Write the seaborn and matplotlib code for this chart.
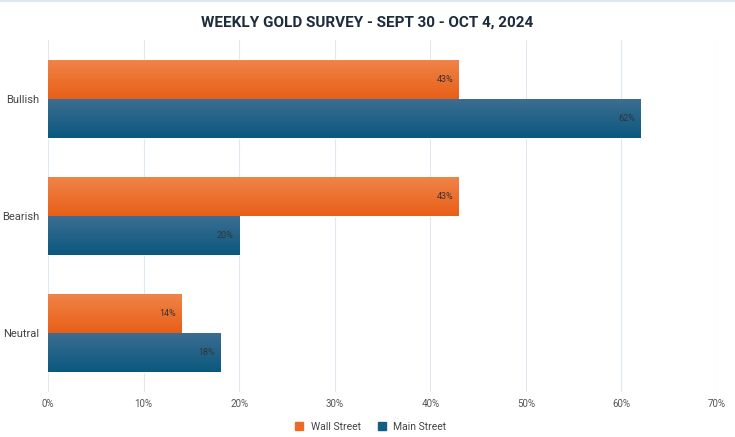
import numpy as np
import pandas as pd
import matplotlib
matplotlib.use("Agg")
import matplotlib.pyplot as plt
import seaborn as sns
from matplotlib.colors import LinearSegmentedColormap

categories = ["Bullish", "Bearish", "Neutral"]
wall_street = [43, 43, 14]
main_street = [62, 20, 18]
series = ["Wall Street", "Main Street"]
x_ticks = [0, 10, 20, 30, 40, 50, 60, 70]

df = pd.DataFrame({
    "Sentiment": categories * 2,
    "Value": wall_street + main_street,
    "Group": [series[0]] * 3 + [series[1]] * 3,
})

sns.set_theme(style="white")
plt.rcParams["font.family"] = ["Roboto", "DejaVu Sans"]

fig = plt.figure(figsize=(7.35, 4.37), dpi=100)
ax = fig.add_axes([0.0653, 0.103, 0.9102, 0.805])

palette = {"Wall Street": "#ec6a28", "Main Street": "#135d84"}
sns.barplot(data=df, y="Sentiment", x="Value", hue="Group", order=categories,
            hue_order=series, palette=palette, orient="h", width=0.667,
            ax=ax, legend=False, saturation=1)

grads = {
    "Wall Street": LinearSegmentedColormap.from_list("o", ["#f08549", "#e85e18"]),
    "Main Street": LinearSegmentedColormap.from_list("b", ["#3d6e92", "#0b587e"]),
}
grad = np.linspace(0, 1, 64).reshape(-1, 1)
for container, name in zip(ax.containers, series):
    for bar in container.patches:
        x0, y0 = bar.get_x(), bar.get_y()
        w, h = bar.get_width(), bar.get_height()
        im = ax.imshow(grad, cmap=grads[name], aspect="auto",
                       extent=[x0, x0 + w, y0 + h, y0], origin="upper",
                       zorder=bar.get_zorder() + 0.1)
        im.set_clip_path(bar)
    ax.bar_label(container, labels=[f"{v:.0f}%" for v in container.datavalues],
                 padding=-16, fontsize=6.5, color="#333333", zorder=5)

ax.set_xlim(0, 70)
ax.set_ylim(2.5, -0.5)
ax.set_xticks(x_ticks)
ax.set_xticklabels([f"{t}%" for t in x_ticks])
ax.tick_params(axis="x", labelsize=7, colors="#555555", length=0, pad=5)
ax.tick_params(axis="y", labelsize=8, colors="#444444", length=0, pad=6)
ax.set_xlabel("")
ax.set_ylabel("")
ax.grid(axis="x", color="#dfe7f0", linewidth=0.8)
ax.set_axisbelow(True)
for s in ax.spines.values():
    s.set_visible(False)

fig.suptitle("WEEKLY GOLD SURVEY - SEPT 30 - OCT 4, 2024", x=0.5, y=0.965,
             fontsize=11, fontweight="bold", color="#1e2b3c")

fig.add_artist(plt.Line2D([0, 1], [0.998, 0.998], color="#dfe7ef", linewidth=1.5,
                          transform=fig.transFigure))

handles = [plt.Line2D([], [], marker="s", linestyle="", markersize=6,
                      color=palette[s]) for s in series]
fig.legend(handles, series, loc="lower center", ncol=2, frameon=False,
           bbox_to_anchor=(0.5, -0.01), fontsize=7.5, handletextpad=0.1,
           columnspacing=1.0, labelcolor="#444444")

fig.savefig("out.png", dpi=100, facecolor="white")
